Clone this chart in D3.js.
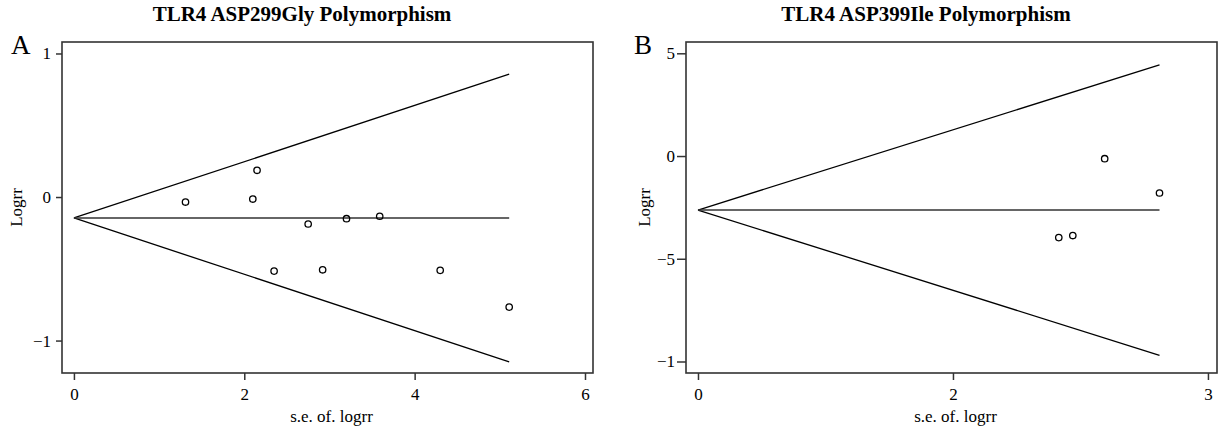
<!DOCTYPE html>
<html>
<head>
<meta charset="utf-8">
<script src="https://cdn.jsdelivr.net/npm/d3@7"></script>
<style>
  body { margin: 0; background: #fff; }
  svg text { font-family: "Liberation Serif", "Times New Roman", serif; }
</style>
</head>
<body>
<svg id="chart" width="1221" height="427"></svg>
<script>
// Panel A - TLR4 Asp299Gly
const titleA = 'TLR4 ASP299Gly Polymorphism';
const seA = [1.31, 2.15, 2.10, 2.75, 3.20, 3.59, 2.35, 2.92, 4.30, 5.11];
const logrrA = [-0.35, 1.86, -0.14, -1.88, -1.51, -1.34, -5.16, -5.07, -5.11, -7.67];
const funnelSeA = [0, 5.11];
const funnelMidA = [-1.46, -1.46];
const funnelUpA = [-1.46, 8.56];
const funnelLoA = [-1.46, -11.48];
const xTicksA = [0, 2, 4, 6];
const xTickLabelsA = ['0', '2', '4', '6'];
const yTicksA = [10, 0, -10];
const yTickLabelsA = ['1', '0', '\u22121'];

// Panel B - TLR4 Asp399Ile
const titleB = 'TLR4 ASP399Ile Polymorphism';
const seB = [3.19, 3.62, 2.83, 2.94];
const logrrB = [-0.13, -1.80, -3.97, -3.87];
const funnelSeB = [0, 3.62];
const funnelMidB = [-2.63, -2.63];
const funnelUpB = [-2.63, 4.44];
const funnelLoB = [-2.63, -9.70];
const xTicksB = [0, 2, 4];
const xTickLabelsB = ['0', '2', '3'];
const yTicksB = [5, 0, -5, -10];
const yTickLabelsB = ['5', '0', '\u22125', '\u22121'];

const svg = d3.select('#chart');

function drawPanel(p) {
  const x = d3.scaleLinear().domain(p.xDomain).range([p.box.left, p.box.right]);
  const y = d3.scaleLinear().domain(p.yDomain).range([p.box.bottom, p.box.top]);
  const g = svg.append('g');

  // title + panel letter
  g.append('text')
    .attr('x', p.titleX).attr('y', 21)
    .attr('text-anchor', 'middle')
    .attr('font-weight', 'bold')
    .attr('font-size', 21)
    .text(p.title);
  g.append('text')
    .attr('x', p.letterX).attr('y', 54)
    .attr('font-size', 27)
    .text(p.letter);

  // funnel
  const line = d3.line().x(d => x(d[0])).y(d => y(d[1]));
  [p.up, p.lo, p.mid].forEach((vals, i) => {
    g.append('path')
      .datum(p.fse.map((s, j) => [s, vals[j]]))
      .attr('d', line)
      .attr('fill', 'none')
      .attr('stroke', i === 2 ? '#333' : '#000')
      .attr('stroke-width', i === 2 ? 1.6 : 1.3);
  });

  // studies
  g.selectAll('circle')
    .data(p.se.map((s, i) => [s, p.lr[i]]))
    .enter().append('circle')
    .attr('cx', d => x(d[0]))
    .attr('cy', d => y(d[1]))
    .attr('r', 3.2)
    .attr('fill', 'none')
    .attr('stroke', '#000')
    .attr('stroke-width', 1.3);

  // box
  g.append('rect')
    .attr('x', p.box.left).attr('y', p.box.top)
    .attr('width', p.box.right - p.box.left)
    .attr('height', p.box.bottom - p.box.top)
    .attr('fill', 'none')
    .attr('stroke', '#333')
    .attr('stroke-width', 1.6);

  // axes
  const xAxis = g.append('g')
    .attr('transform', `translate(0,${p.box.bottom})`)
    .call(d3.axisBottom(x).tickValues(p.xTicks)
      .tickFormat((d, i) => p.xLabels[i]).tickSize(7).tickPadding(8));
  const yAxis = g.append('g')
    .attr('transform', `translate(${p.box.left},0)`)
    .call(d3.axisLeft(y).tickValues(p.yTicks)
      .tickFormat((d, i) => p.yLabels[i]).tickSize(p.yTickSize).tickPadding(p.yPad));
  [xAxis, yAxis].forEach(a => {
    a.attr('font-family', null).attr('font-size', 17);
    a.select('.domain').remove();
    a.selectAll('line').attr('stroke', '#333').attr('stroke-width', 1.5);
    a.selectAll('text').attr('fill', '#000');
  });

  g.append('text')
    .attr('x', (p.box.left + p.box.right) / 2 + 4)
    .attr('y', 422)
    .attr('text-anchor', 'middle')
    .attr('font-size', 17)
    .text('s.e. of. logrr');
  g.append('text')
    .attr('transform', `translate(${p.ylabX},${(p.box.top + p.box.bottom) / 2}) rotate(-90)`)
    .attr('text-anchor', 'middle')
    .attr('font-size', 17)
    .text('Logrr');
}

drawPanel({
  title: titleA, letter: 'A', titleX: 302, letterX: 11, ylabX: 22,
  box: { left: 62, right: 593, top: 42, bottom: 373 },
  xDomain: [-0.14, 6.094], yDomain: [-12.26, 10.8],
  se: seA, lr: logrrA, fse: funnelSeA, mid: funnelMidA, up: funnelUpA, lo: funnelLoA,
  xTicks: xTicksA, xLabels: xTickLabelsA, yTicks: yTicksA, yLabels: yTickLabelsA,
  yTickSize: 6, yPad: 5
});

drawPanel({
  title: titleB, letter: 'B', titleX: 926, letterX: 634, ylabX: 650,
  box: { left: 686, right: 1217, top: 42, bottom: 373 },
  xDomain: [-0.094, 4.071], yDomain: [-10.56, 5.55],
  se: seB, lr: logrrB, fse: funnelSeB, mid: funnelMidB, up: funnelUpB, lo: funnelLoB,
  xTicks: xTicksB, xLabels: xTickLabelsB, yTicks: yTicksB, yLabels: yTickLabelsB,
  yTickSize: 9, yPad: 2
});
</script>
</body>
</html>
